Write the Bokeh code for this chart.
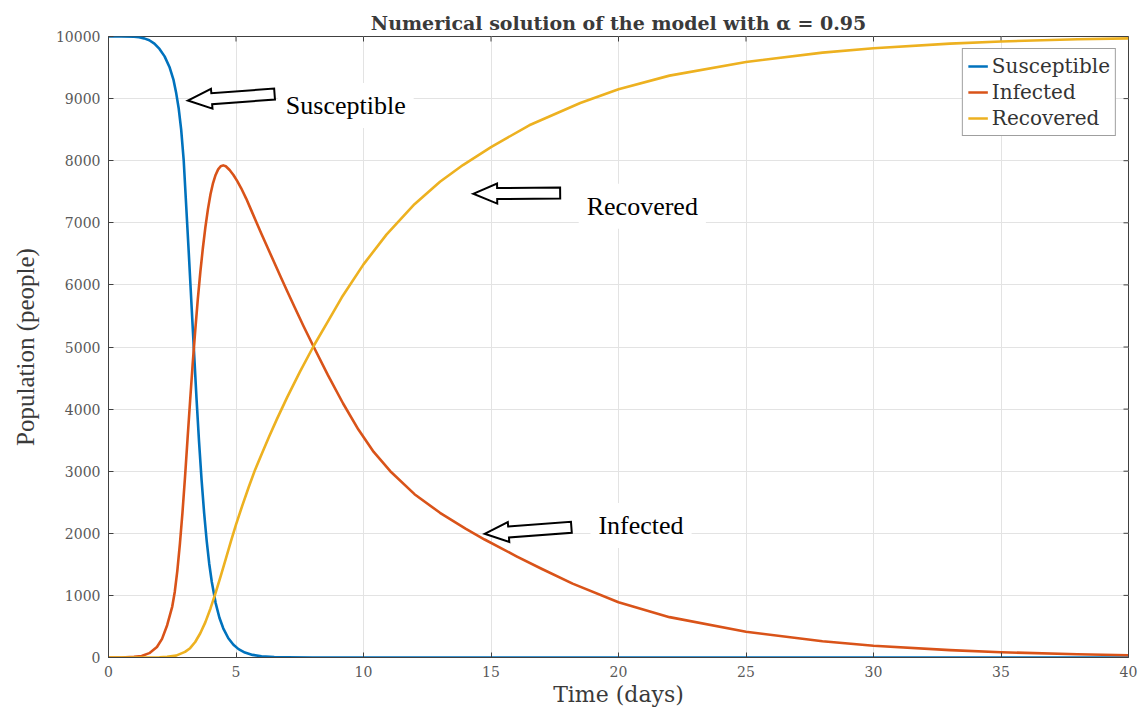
import math
from bokeh.plotting import figure
from bokeh.models import FixedTicker, Label, Range1d
from bokeh.embed import file_html
from bokeh.resources import INLINE

# ---------------- data ----------------
title_text = "Numerical solution of the model with \u03b1 = 0.95"
x_label = "Time (days)"
y_label = "Population (people)"
series_names = ["Susceptible", "Infected", "Recovered"]
series_colors = ["#0072BD", "#D95319", "#EDB120"]

x_ticks = [0, 5, 10, 15, 20, 25, 30, 35, 40]
y_ticks = [0, 1000, 2000, 3000, 4000, 5000, 6000, 7000, 8000, 9000, 10000]

s_t = [0, 0.5, 1.0, 1.2, 1.4, 1.6, 1.8, 2.0, 2.2, 2.4, 2.55, 2.65, 2.75, 2.85, 2.95,
       3.05, 3.15, 3.25, 3.35, 3.45, 3.55, 3.65, 3.75, 3.85, 3.95, 4.05, 4.2, 4.35, 4.5,
       4.7, 4.9, 5.1, 5.35, 5.65, 6.0, 6.5, 7.0, 8.0, 10, 20, 30, 40]
s_v = [10000, 10000, 9995, 9988, 9970, 9940, 9885, 9800, 9680, 9500, 9300, 9100, 8850,
       8500, 8000, 7250, 6500, 5720, 4950, 4180, 3480, 2860, 2330, 1880, 1510, 1220, 880,
       640, 470, 310, 205, 135, 80, 42, 20, 8, 3, 1, 0, 0, 0, 0]

i_t = [0, 0.5, 1.0, 1.3, 1.6, 1.9, 2.1, 2.3, 2.5, 2.6, 2.7, 2.8, 2.9, 3.0, 3.1, 3.2, 3.3,
       3.4, 3.5, 3.6, 3.7, 3.8, 3.9, 4.0, 4.1, 4.2, 4.3, 4.4, 4.5, 4.6, 4.75, 4.9, 5.05,
       5.2, 5.4, 5.6, 5.8, 6.0, 6.25, 6.5, 6.75, 7.0, 7.3, 7.65, 8.05, 8.6, 9.2, 9.8,
       10.4, 11.05, 12, 13, 14, 14.75, 16, 17, 18.2, 20, 22, 25, 28, 30, 33, 35, 38, 40]
i_v = [0, 0, 10, 25, 70, 170, 300, 520, 820, 1060, 1400, 1830, 2330, 2900, 3520, 4130,
       4720, 5260, 5760, 6200, 6590, 6930, 7220, 7460, 7640, 7770, 7860, 7910, 7925, 7910,
       7850, 7770, 7670, 7560, 7390, 7200, 7010, 6820, 6590, 6360, 6130, 5905, 5640, 5335,
       5000, 4550, 4090, 3670, 3310, 3000, 2630, 2330, 2075, 1900, 1630, 1425, 1190, 890,
       650, 415, 262, 190, 118, 85, 52, 36]

r_t = [0, 1.5, 2.0, 2.3, 2.65, 3.0, 3.2, 3.4, 3.6, 3.8, 4.0, 4.2, 4.4, 4.6, 4.8, 5.0,
       5.25, 5.5, 5.75, 6.0, 6.3, 6.6, 7.0, 7.5, 8.05, 8.6, 9.15, 10, 10.9, 12, 13, 13.9,
       15, 16.5, 18.5, 20, 22, 25, 28, 30, 33, 35, 38, 40]
r_v = [0, 0, 5, 12, 30, 90, 150, 250, 390, 570, 790, 1040, 1310, 1590, 1870, 2140, 2450,
       2745, 3025, 3270, 3560, 3835, 4185, 4595, 5020, 5410, 5800, 6330, 6810, 7300, 7660,
       7930, 8220, 8570, 8930, 9150, 9370, 9590, 9740, 9810, 9885, 9920, 9955, 9970]

# annotations: text, text anchor (t, value at baseline), arrow tip (t, value), arrow tilt (deg)
ann_text = ["Susceptible", "Recovered", "Infected"]
ann_text_pos = [(6.64, 8889), (18.44, 7267), (18.9, 2126)]
ann_arrow_tip = [(3.11, 8969), (14.3, 7467), (14.75, 1992)]
ann_arrow_tilt = [4.3, 0.5, 4.3]

# ---------------- layout ----------------
W, H = 1144, 710
BL, BR, BT, BB = 108, 16, 36, 53
FW, FH = W - BL - BR, H - BT - BB
X0, X1, Y0, Y1 = 0, 40, 0, 10000
XS = (X1 - X0) / FW   # data units per px
YS = (Y1 - Y0) / FH
AX_COL = "#404040"

p = figure(width=W, height=H, output_backend="svg", toolbar_location=None,
           x_range=Range1d(X0, X1), y_range=Range1d(Y0, Y1),
           min_border_left=BL, min_border_right=BR, min_border_top=BT,
           min_border_bottom=BB, background_fill_color="white",
           border_fill_color="white")

p.title.text = title_text
p.title.align = "center"
p.title.text_font = "DejaVu Serif"
p.title.text_font_style = "bold"
p.title.text_font_size = "19px"
p.title.text_color = "#3a3a3a"
p.title.standoff = 6

p.outline_line_color = AX_COL
p.outline_line_width = 1

for ax, ticks in ((p.xaxis[0], x_ticks), (p.yaxis[0], y_ticks)):
    ax.ticker = FixedTicker(ticks=ticks)
    ax.major_tick_in = 5
    ax.major_tick_out = 0
    ax.minor_tick_line_color = None
    ax.axis_line_color = AX_COL
    ax.major_tick_line_color = AX_COL
    ax.major_label_text_font = "DejaVu Serif"
    ax.major_label_text_font_size = "14px"
    ax.major_label_text_color = "#595959"
    ax.major_label_standoff = 8

p.xaxis[0].axis_label = x_label
p.xaxis[0].axis_label_text_font = "DejaVu Serif"
p.xaxis[0].axis_label_text_font_size = "22px"
p.xaxis[0].axis_label_text_font_style = "normal"
p.xaxis[0].axis_label_text_color = "#3a3a3a"
p.xaxis[0].axis_label_standoff = 2

p.yaxis[0].axis_label = y_label
p.yaxis[0].axis_label_text_font = "Liberation Serif"
p.yaxis[0].axis_label_text_font_size = "25px"
p.yaxis[0].axis_label_text_font_style = "normal"
p.yaxis[0].axis_label_text_color = "#3a3a3a"
p.yaxis[0].axis_label_standoff = 14

p.xgrid.ticker = FixedTicker(ticks=x_ticks)
p.ygrid.ticker = FixedTicker(ticks=y_ticks)
p.grid.grid_line_color = "#e3e3e3"
p.grid.grid_line_width = 1

# tick marks on the top and right edges of the box (inward)
tick_len = 5
p.segment(x0=x_ticks, y0=[Y1] * len(x_ticks), x1=x_ticks,
          y1=[Y1 - tick_len * YS] * len(x_ticks), line_color=AX_COL, line_width=1)
p.segment(x0=[X1] * len(y_ticks), y0=y_ticks, x1=[X1 - tick_len * XS] * len(y_ticks),
          y1=y_ticks, line_color=AX_COL, line_width=1)

# ---------------- series ----------------
for name, col, tt, vv in zip(series_names, series_colors, (s_t, i_t, r_t), (s_v, i_v, r_v)):
    p.line(tt, vv, line_color=col, line_width=2.6, legend_label=name,
           line_join="round")

lg = p.legend[0]
lg.location = "top_right"
lg.margin = 12
lg.label_text_font = "DejaVu Serif"
lg.label_text_font_size = "20px"
lg.label_text_color = "#333333"
lg.glyph_width = 20
lg.glyph_height = 22
lg.label_height = 22
lg.label_standoff = 4
lg.spacing = 2
lg.padding = 5
lg.border_line_color = AX_COL
lg.border_line_width = 1
lg.background_fill_color = "white"
lg.background_fill_alpha = 1

# ---------------- annotations ----------------
def arrow_poly(tx, ty, length_px, tilt_deg):
    head_len, head_half, shaft_half = 24, 10, 5.5
    pts = [(0, 0), (head_len, head_half), (head_len, shaft_half), (length_px, shaft_half),
           (length_px, -shaft_half), (head_len, -shaft_half), (head_len, -head_half)]
    a = math.radians(tilt_deg)
    xs, ys = [], []
    for u, w in pts:
        px = u * math.cos(a) - w * math.sin(a)
        py = u * math.sin(a) + w * math.cos(a)
        xs.append(tx + px * XS)
        ys.append(ty + py * YS)
    return xs, ys

for txt, (lx, ly), (ax_, ay_), tilt in zip(ann_text, ann_text_pos, ann_arrow_tip, ann_arrow_tilt):
    lab = Label(x=lx, y=ly, text=txt, text_font="Liberation Serif", text_font_size="26px",
                text_color="black", text_baseline="alphabetic", text_align="left",
                background_fill_color="white", background_fill_alpha=1.0, padding=8)
    p.add_layout(lab)
    xs, ys = arrow_poly(ax_, ay_, 87, tilt)
    p.patch(xs, ys, fill_color="white", line_color="black", line_width=2,
            line_join="miter")

open("out.html", "w").write(file_html(p, INLINE))
